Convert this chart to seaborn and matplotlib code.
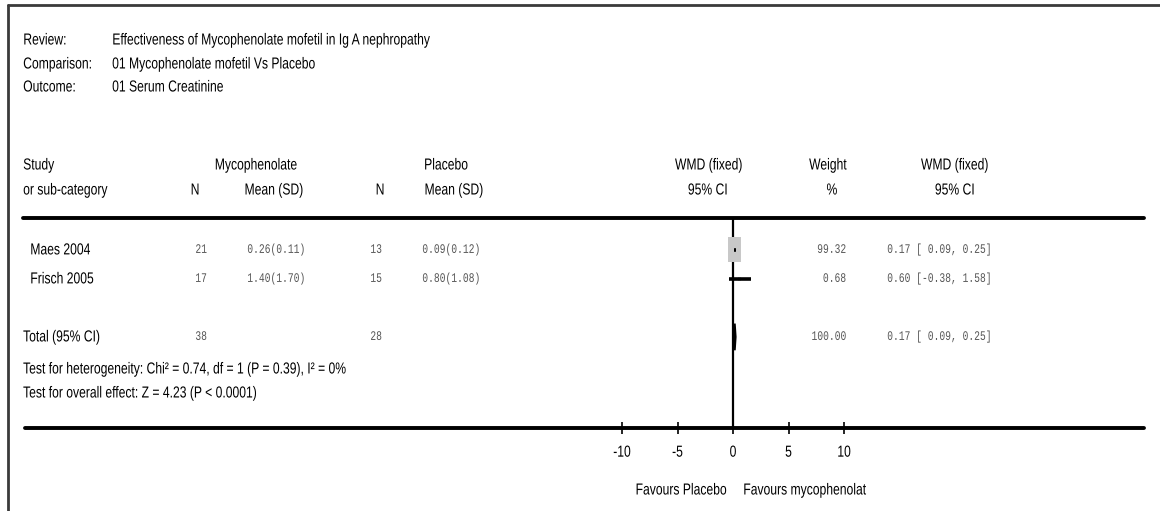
import numpy as np
import pandas as pd
import matplotlib
matplotlib.use("Agg")
import matplotlib.pyplot as plt
import seaborn as sns
from matplotlib import font_manager
from matplotlib.font_manager import FontProperties
from matplotlib.patches import Polygon
from matplotlib.path import Path
from matplotlib.markers import MarkerStyle
from matplotlib.patheffects import AbstractPathEffect
from matplotlib.transforms import Affine2D, blended_transform_factory

# ---- data ----
studies = ["Maes 2004", "Frisch 2005"]
n_myco = [21, 17]
mean_myco = [0.26, 1.40]
sd_myco = [0.11, 1.70]
n_plac = [13, 15]
mean_plac = [0.09, 0.80]
sd_plac = [0.12, 1.08]
wmd = [0.17, 0.60]
ci_low = [0.09, -0.38]
ci_high = [0.25, 1.58]
weights = [99.32, 0.68]

total_n_myco = 38
total_n_plac = 28
total_wmd = 0.17
total_low = 0.09
total_high = 0.25
total_weight = 100.00

x_ticks = [-10, -5, 0, 5, 10]

review = "Effectiveness of Mycophenolate mofetil in Ig A nephropathy"
comparison = "01 Mycophenolate mofetil Vs Placebo"
outcome = "01 Serum Creatinine"
het_text = "Test for heterogeneity: Chi\u00b2 = 0.74, df = 1 (P = 0.39), I\u00b2 = 0%"
overall_text = "Test for overall effect: Z = 4.23 (P < 0.0001)"


def pick_font(names):
    for n in names:
        try:
            font_manager.findfont(FontProperties(family=n), fallback_to_default=False)
            return n
        except ValueError:
            pass
    return "DejaVu Sans"


# squeeze text horizontally (the original uses a condensed face)
class Squeeze(AbstractPathEffect):
    def __init__(self, sx, ha="left"):
        super().__init__()
        self.sx = sx
        self.ha = ha

    def draw_path(self, renderer, gc, tpath, affine, rgbFace=None):
        ext = affine.transform_path(tpath).get_extents()
        px = {"left": ext.x0, "center": (ext.x0 + ext.x1) / 2, "right": ext.x1}[self.ha]
        a = affine + Affine2D().translate(-px, 0).scale(self.sx, 1).translate(px, 0)
        renderer.draw_path(gc, tpath, a, rgbFace)


sns.set_theme(style="white")
narrow = pick_font(["Liberation Sans Narrow", "Arial Narrow", "Liberation Sans"])
mono = pick_font(["Liberation Mono", "DejaVu Sans Mono"])
plt.rcParams["font.family"] = [narrow, "DejaVu Sans"]

if narrow == "Liberation Sans":
    FS, SX = 11.5, 0.76
else:
    FS, SX = 11.5, 0.93
NUM_FS, NUM_SX = 9.4, 0.74
NUM_COL = "#555555"

fig = plt.figure(figsize=(11.6, 5.11), dpi=100)

# background axes in pixel units for the table layout
base = fig.add_axes([0, 0, 1, 1])
base.set_xlim(0, 1160)
base.set_ylim(511, 0)
base.axis("off")

# forest plot axes
ax = fig.add_axes([622 / 1160, 1 - 428 / 511, 222 / 1160, 210 / 511])
ax.patch.set_alpha(0)
ax.set_xlim(-10, 10)
ax.set_ylim(6.14, -1.10)
for s in ax.spines.values():
    s.set_visible(False)

rows = list(range(len(studies)))
total_row = 3
row_tr = blended_transform_factory(base.transData, ax.transData)

# frame and rules
base.plot([8, 1160], [5, 5], color="#3a3a3a", lw=2)
base.plot([8, 8], [5, 511], color="#3a3a3a", lw=2)
base.plot([23, 1144], [218, 218], color="black", lw=2.8)
base.plot([25, 1144], [428, 428], color="black", lw=2.8)


def txt(x, y, s, ha="left", transform=None):
    base.text(x, y, s, ha=ha, va="center", fontsize=FS, color="black",
              transform=transform if transform is not None else base.transData,
              path_effects=[Squeeze(SX, ha)])


def num(x, r, s, ha="right"):
    base.text(x, r, s, ha=ha, va="center", fontsize=NUM_FS, color=NUM_COL,
              family=mono, transform=row_tr, path_effects=[Squeeze(NUM_SX, ha)])


# header block
txt(23, 40, "Review:")
txt(23, 64, "Comparison:")
txt(23, 87, "Outcome:")
txt(112, 40, review)
txt(112, 64, comparison)
txt(112, 87, outcome)

# column headers
txt(23, 165, "Study")
txt(23, 190, "or sub-category")
txt(256, 165, "Mycophenolate", ha="center")
txt(195, 190, "N", ha="center")
txt(274, 190, "Mean (SD)", ha="center")
txt(446, 165, "Placebo", ha="center")
txt(380, 190, "N", ha="center")
txt(454, 190, "Mean (SD)", ha="center")
txt(709, 165, "WMD (fixed)", ha="center")
txt(708, 190, "95% CI", ha="center")
txt(828, 165, "Weight", ha="center")
txt(832, 190, "%", ha="center")
txt(955, 165, "WMD (fixed)", ha="center")
txt(955, 190, "95% CI", ha="center")

for i, r in enumerate(rows):
    txt(30, r, studies[i], transform=row_tr)
    num(207, r, f"{n_myco[i]}")
    num(305, r, f"{mean_myco[i]:.2f}({sd_myco[i]:.2f})")
    num(382, r, f"{n_plac[i]}")
    num(480, r, f"{mean_plac[i]:.2f}({sd_plac[i]:.2f})")
    num(846, r, f"{weights[i]:.2f}")
    num(887, r, f"{wmd[i]:.2f} [{ci_low[i]:5.2f}, {ci_high[i]:.2f}]", ha="left")

txt(23, total_row, "Total (95% CI)", transform=row_tr)
num(207, total_row, f"{total_n_myco}")
num(382, total_row, f"{total_n_plac}")
num(846, total_row, f"{total_weight:.2f}")
num(887, total_row, f"{total_wmd:.2f} [{total_low:5.2f}, {total_high:.2f}]", ha="left")

txt(23, 369, het_text)
txt(23, 393, overall_text)

# study boxes sized by weight
df = pd.DataFrame({"wmd": wmd, "row": rows, "weight": weights})
box = MarkerStyle(Path([(-0.26, -0.5), (0.26, -0.5), (0.26, 0.5), (-0.26, 0.5), (-0.26, -0.5)], closed=True))
sns.scatterplot(data=df, x="wmd", y="row", size="weight", sizes=(12, 324),
                marker=box, color="#c8c8c8", edgecolor="none", linewidth=0,
                legend=False, ax=ax, zorder=2)

# confidence intervals
ax.hlines(rows, ci_low, ci_high, color="black", lw=2.6, zorder=3)

# pooled diamond
ax.add_patch(Polygon([(total_low, total_row), (total_wmd, total_row - 0.46),
                      (total_high, total_row), (total_wmd, total_row + 0.46)],
                     closed=True, facecolor="black", edgecolor="black", lw=1.2, zorder=3))

ax.axvline(0, color="black", lw=1.6, zorder=1)

ax.set_xticks(x_ticks)
ax.set_xticklabels([str(t) for t in x_ticks])
ax.set_yticks([])
ax.set_xlabel("")
ax.set_ylabel("")
ax.tick_params(axis="x", bottom=True, direction="inout", length=8, width=1.2,
               color="black", labelsize=FS, labelcolor="black", pad=8)
for lab in ax.get_xticklabels():
    lab.set_path_effects([Squeeze(SX, "center")])

txt(727, 490, "Favours Placebo", ha="right")
txt(743, 490, "Favours mycophenolat", ha="left")

fig.savefig("out.png", dpi=100)
